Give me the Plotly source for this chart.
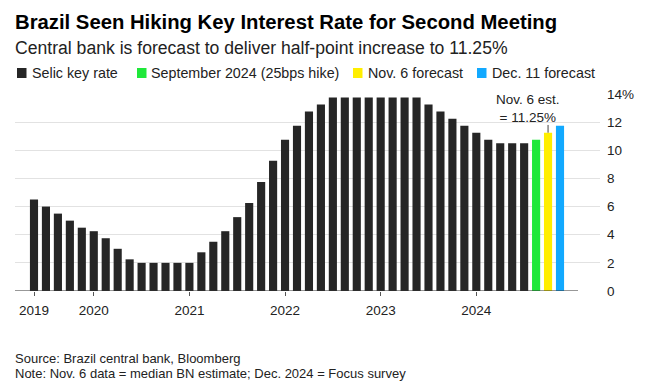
import plotly.graph_objects as go

# ---- data ----
meetings = [
    "Jun 2019", "Jul 2019", "Sep 2019", "Oct 2019", "Dec 2019",
    "Feb 2020", "Mar 2020", "May 2020", "Jun 2020", "Aug 2020", "Sep 2020", "Oct 2020", "Dec 2020",
    "Jan 2021", "Mar 2021", "May 2021", "Jun 2021", "Aug 2021", "Sep 2021", "Oct 2021", "Dec 2021",
    "Feb 2022", "Mar 2022", "May 2022", "Jun 2022", "Aug 2022", "Sep 2022", "Oct 2022", "Dec 2022",
    "Feb 2023", "Mar 2023", "May 2023", "Jun 2023", "Aug 2023", "Sep 2023", "Nov 2023", "Dec 2023",
    "Jan 2024", "Mar 2024", "May 2024", "Jun 2024", "Jul 2024",
]
selic = [
    6.5, 6.0, 5.5, 5.0, 4.5,
    4.25, 3.75, 3.0, 2.25, 2.0, 2.0, 2.0, 2.0,
    2.0, 2.75, 3.5, 4.25, 5.25, 6.25, 7.75, 9.25,
    10.75, 11.75, 12.75, 13.25, 13.75, 13.75, 13.75, 13.75,
    13.75, 13.75, 13.75, 13.75, 13.25, 12.75, 12.25, 11.75,
    11.25, 10.75, 10.5, 10.5, 10.5,
]
sep_meeting, sep_value = ["Sep 2024"], [10.75]
nov_meeting, nov_value = ["Nov 2024"], [11.25]
dec_meeting, dec_value = ["Dec 2024"], [11.75]

year_ticks = ["Jun 2019", "Feb 2020", "Jan 2021", "Feb 2022", "Feb 2023", "Jan 2024"]
year_labels = ["2019", "2020", "2021", "2022", "2023", "2024"]
y_tickvals = [0, 2, 4, 6, 8, 10, 12, 14]
y_ticktext = ["0", "2", "4", "6", "8", "10", "12", "14%"]

# ---- styling ----
FONT = "Liberation Sans, Arial, sans-serif"
BLACK = "#262626"
GREEN = "#1fe83a"
YELLOW = "#ffee00"
BLUE = "#12a9ff"
W, H = 662, 392
L, R, T, B = 15, 62, 94, 101
PW, PH = W - L - R, H - T - B


def xp(px):
    return (px - L) / PW


def yp(py):
    return (H - B - py) / PH


bar_w = 0.68
fig = go.Figure()
fig.add_trace(go.Bar(x=meetings, y=selic, marker=dict(color=BLACK, line=dict(width=0)),
                     width=bar_w, name="Selic key rate"))
fig.add_trace(go.Bar(x=sep_meeting, y=sep_value, marker=dict(color=GREEN, line=dict(width=0)),
                     width=bar_w, name="September 2024 (25bps hike)"))
fig.add_trace(go.Bar(x=nov_meeting, y=nov_value, marker=dict(color=YELLOW, line=dict(width=0)),
                     width=bar_w, name="Nov. 6 forecast"))
fig.add_trace(go.Bar(x=dec_meeting, y=dec_value, marker=dict(color=BLUE, line=dict(width=0)),
                     width=bar_w, name="Dec. 11 forecast"))

annotations = []
shapes = []

# title / subtitle
annotations.append(dict(text="<b>Brazil Seen Hiking Key Interest Rate for Second Meeting</b>",
                        xref="paper", yref="paper", x=xp(13), y=yp(22), xanchor="left", yanchor="middle",
                        showarrow=False, font=dict(family=FONT, size=20.3, color="#000000")))
annotations.append(dict(text="Central bank is forecast to deliver half-point increase to 11.25%",
                        xref="paper", yref="paper", x=xp(13), y=yp(48), xanchor="left", yanchor="middle",
                        showarrow=False, font=dict(family=FONT, size=17.6, color="#222222")))

# custom legend
legend_items = [
    (17, 32, BLACK, "Selic key rate"),
    (137, 151, GREEN, "September 2024 (25bps hike)"),
    (353, 368, YELLOW, "Nov. 6 forecast"),
    (477, 492, BLUE, "Dec. 11 forecast"),
]
ly = 73
for sx, tx, col, label in legend_items:
    shapes.append(dict(type="rect", xref="paper", yref="paper", x0=xp(sx), x1=xp(sx + 9.5),
                       y0=yp(ly + 5), y1=yp(ly - 5), fillcolor=col, line=dict(width=0), layer="above"))
    annotations.append(dict(text=label, xref="paper", yref="paper", x=xp(tx - 2), y=yp(ly),
                            xanchor="left", yanchor="middle", showarrow=False,
                            font=dict(family=FONT, size=14.3, color="#222222")))

# note on Nov. 6 bar
annotations.append(dict(text="Nov. 6 est.<br>= 11.25%", x=nov_meeting[0], y=11.8, xref="x", yref="y",
                        xanchor="center", yanchor="bottom", xshift=-20, yshift=-2, showarrow=False,
                        align="center", font=dict(family=FONT, size=13.5, color="#222222")))
shapes.append(dict(type="line", xref="x", yref="y", x0=nov_meeting[0], x1=nov_meeting[0],
                   y0=nov_value[0], y1=11.8, line=dict(color="#444444", width=1)))

# x axis baseline
shapes.append(dict(type="line", xref="paper", yref="y", x0=0, x1=xp(578), y0=0, y1=0,
                   line=dict(color="#333333", width=1.2), layer="above"))

# footer
annotations.append(dict(text="Source: Brazil central bank, Bloomberg", xref="paper", yref="paper",
                        x=xp(13), y=yp(358), xanchor="left", yanchor="middle", showarrow=False,
                        font=dict(family=FONT, size=13, color="#222222")))
annotations.append(dict(text="Note: Nov. 6 data = median BN estimate; Dec. 2024 = Focus survey",
                        xref="paper", yref="paper", x=xp(13), y=yp(373), xanchor="left", yanchor="middle",
                        showarrow=False, font=dict(family=FONT, size=13, color="#222222")))

px_per_bar = 11.955
fig.update_layout(
    width=W, height=H,
    margin=dict(l=L, r=R, t=T, b=B, pad=0),
    paper_bgcolor="white", plot_bgcolor="white",
    barmode="overlay",
    showlegend=False,
    annotations=annotations,
    shapes=shapes,
    xaxis=dict(type="category", range=[-(34 - L) / px_per_bar, 44 + (W - R - 560) / px_per_bar],
               tickmode="array", tickvals=year_ticks, ticktext=year_labels,
               ticks="outside", ticklen=4, tickcolor="#555555", tickwidth=1,
               ticklabelstandoff=3,
               showgrid=False, showline=False, zeroline=False,
               tickfont=dict(family=FONT, size=13.5, color="#222222")),
    yaxis=dict(range=[0, 14], side="right", tickmode="array", tickvals=y_tickvals, ticktext=y_ticktext,
               showgrid=True, gridcolor="#e2e2e2", gridwidth=1, zeroline=False, showline=False,
               ticks="", ticklabelstandoff=6,
               tickfont=dict(family=FONT, size=13.5, color="#222222")),
)

fig.write_html("out.html", config={"displayModeBar": False},
               post_script="document.body.style.margin='0';document.body.style.padding='0';")
